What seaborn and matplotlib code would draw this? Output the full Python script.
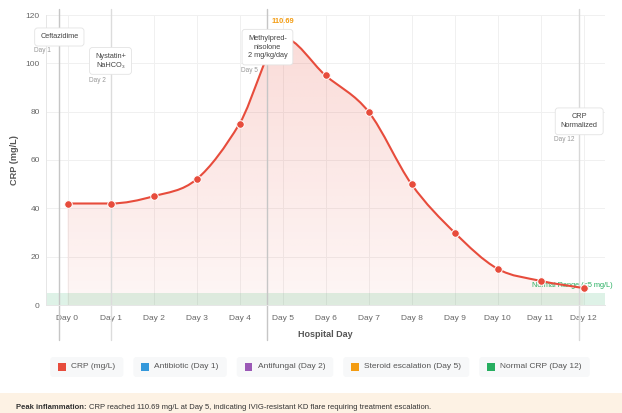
import numpy as np
import pandas as pd
import matplotlib
matplotlib.use("Agg")
import matplotlib.pyplot as plt
import seaborn as sns
from matplotlib.path import Path
from matplotlib.patches import PathPatch, FancyBboxPatch, Rectangle

# ---------------- data ----------------
days = list(range(13))
day_labels = [f"Day {d}" for d in days]
crp = [42, 42, 45, 52, 75, 110.69, 95, 80, 50, 30, 15, 10, 7]
normal_limit = 5
y_ticks = [0, 20, 40, 60, 80, 100, 120]

event_x = [-0.19, 1.0, 4.65, 11.9]
event_text = ["Ceftazidime", "Nystatin+\nNaHCO\u2083", "Methylpred-\nnisolone\n2 mg/kg/day", "CRP\nNormalized"]
event_day = ["Day 1", "Day 2", "Day 5", "Day 12"]

legend_labels = ["CRP (mg/L)", "Antibiotic (Day 1)", "Antifungal (Day 2)",
                 "Steroid escalation (Day 5)", "Normal CRP (Day 12)"]
legend_colors = ["#e74c3c", "#3498db", "#9b59b6", "#f39c12", "#27ae60"]

footer_bold = "Peak inflammation:"
footer_text = "CRP reached 110.69 mg/L at Day 5, indicating IVIG-resistant KD flare requiring treatment escalation."

# ---------------- style ----------------
sns.set_theme(style="white")
plt.rcParams["font.family"] = ["Liberation Sans", "DejaVu Sans"]

W, H = 622, 413
fig = plt.figure(figsize=(W / 100, H / 100), dpi=100)
fig.patch.set_facecolor("white")

# overlay axes in pixel coordinates for legend / footer
lax = fig.add_axes([0, 0, 1, 1], zorder=0)
lax.set_xlim(0, W)
lax.set_ylim(H, 0)
lax.axis("off")

ax = fig.add_axes([46 / W, 1 - 305 / H, 559 / W, 290 / H], zorder=1)
ax.set_xlim(-0.5, 12.5)
ax.set_ylim(0, 120)

RED = "#e74c3c"


def monotone_path(xs, ys):
    xs = np.asarray(xs, float)
    ys = np.asarray(ys, float)
    n = len(xs)
    delta = np.diff(ys) / np.diff(xs)
    m = np.zeros(n)
    m[0] = delta[0]
    m[-1] = delta[-1]
    for i in range(1, n - 1):
        if delta[i - 1] == 0 or delta[i] == 0 or np.sign(delta[i - 1]) != np.sign(delta[i]):
            m[i] = 0
        else:
            m[i] = (delta[i - 1] + delta[i]) / 2
    for i in range(n - 1):
        if delta[i] == 0:
            m[i] = m[i + 1] = 0
            continue
        a = m[i] / delta[i]
        b = m[i + 1] / delta[i]
        s = a * a + b * b
        if s > 9:
            t = 3 / np.sqrt(s)
            m[i] = t * a * delta[i]
            m[i + 1] = t * b * delta[i]
    verts = [(xs[0], ys[0])]
    codes = [Path.MOVETO]
    for i in range(n - 1):
        dx = (xs[i + 1] - xs[i]) / 3
        verts += [(xs[i] + dx, ys[i] + m[i] * dx),
                  (xs[i + 1] - dx, ys[i + 1] - m[i + 1] * dx),
                  (xs[i + 1], ys[i + 1])]
        codes += [Path.CURVE4] * 3
    return verts, codes


verts, codes = monotone_path(days, crp)

# gradient fill under curve
fverts = verts + [(days[-1], 0), (days[0], 0), verts[0]]
fcodes = codes + [Path.LINETO, Path.LINETO, Path.CLOSEPOLY]
fill_patch = PathPatch(Path(fverts, fcodes), facecolor="none", edgecolor="none")
ax.add_patch(fill_patch)
grad = np.zeros((256, 2, 4))
grad[..., 0] = 231 / 255
grad[..., 1] = 76 / 255
grad[..., 2] = 60 / 255
alphas = np.linspace(0.21, 0.05, 256)
grad[..., 3] = alphas[:, None]
img = ax.imshow(grad, extent=[-0.5, 12.5, 0, 120], origin="upper", aspect="auto",
                zorder=1, interpolation="bilinear")
img.set_clip_path(fill_patch)
ax.set_xlim(-0.5, 12.5)
ax.set_ylim(0, 120)

# normal range band
ax.axhspan(0, normal_limit, color="#27ae60", alpha=0.15, lw=0, zorder=1.5)
ax.text(10.81, 7.9, "Normal Range (<5 mg/L)", color="#27ae60", fontsize=5.3,
        ha="left", va="center", zorder=2, clip_on=False)

# smooth line
ax.add_patch(PathPatch(Path(verts, codes), facecolor="none", edgecolor=RED, lw=1.5,
                       zorder=3, capstyle="round", joinstyle="round"))

# markers
df = pd.DataFrame({"day": days, "crp": crp})
sns.scatterplot(data=df, x="day", y="crp", ax=ax, color=RED, s=30, edgecolor="white",
                linewidth=0.7, zorder=4, legend=False)

# event lines
line_colors = ["#c6c6c6", "#dcdcdc", "#c6c6c6", "#d8d8d8"]
for xv, c in zip(event_x, line_colors):
    ax.axvline(xv, ymin=-0.1207, ymax=1.0207, color=c, lw=1.0, zorder=2.5, clip_on=False)

# event annotation boxes
box_y = [110.9, 101, 106.7, 76]
day_pos = [(-0.79, 105.5), (0.49, 93.1), (4.03, 97.2), (11.32, 68.3)]
for xv, yv, txt, dtxt, dp in zip(event_x, box_y, event_text, event_day, day_pos):
    ax.text(xv, yv, txt, ha="center", va="center", fontsize=5.3, color="#444",
            linespacing=1.35, zorder=6, clip_on=False,
            bbox=dict(boxstyle="round,pad=0.75,rounding_size=0.4", fc="white",
                      ec="#e3e3e3", lw=0.6))
    ax.text(dp[0], dp[1], dtxt, ha="left", va="center", fontsize=4.7, color="#999",
            zorder=6, clip_on=False)

# peak label
pk = int(np.argmax(crp))
ax.text(days[pk], crp[pk] + 6.8, f"{crp[pk]:.2f}", ha="center", va="center",
        fontsize=5.4, fontweight="bold", color="#f39c12", zorder=6, clip_on=False)

# axes styling
ax.set_xticks(days)
ax.set_xticklabels(day_labels)
ax.set_yticks(y_ticks)
ax.tick_params(axis="both", length=0, labelsize=6, labelcolor="#666")
ax.tick_params(axis="x", pad=7)
ax.tick_params(axis="y", pad=4.5)
ax.grid(True, color="#f0f0f0", lw=0.7, zorder=0)
ax.set_axisbelow(True)
for s in ["top", "right"]:
    ax.spines[s].set_visible(False)
for s in ["left", "bottom"]:
    ax.spines[s].set_color("#e6e6e6")
    ax.spines[s].set_linewidth(0.7)
ax.set_xlabel("Hospital Day", fontsize=6.5, fontweight="bold", color="#555", labelpad=6)
ax.set_ylabel("CRP (mg/L)", fontsize=6.6, fontweight="bold", color="#555", labelpad=5)

# ---------------- legend ----------------
fig.canvas.draw()
r = fig.canvas.get_renderer()
fs_leg = 6
texts = []
widths = []
for lab in legend_labels:
    t = lax.text(0, 367, lab, fontsize=fs_leg, color="#555", ha="left", va="center")
    bb = t.get_window_extent(renderer=r)
    widths.append(bb.width)
    texts.append(t)
pad_l, sq, gap_sq, pad_r, gap = 8, 7.5, 5.5, 8, 10
box_w = [pad_l + sq + gap_sq + w + pad_r for w in widths]
total = sum(box_w) + gap * (len(box_w) - 1)
x0 = 320 - total / 2
for t, bw, col in zip(texts, box_w, legend_colors):
    lax.add_patch(FancyBboxPatch((x0, 357), bw, 20, boxstyle="round,pad=0,rounding_size=3",
                                 fc="#f7f8f9", ec="none", zorder=1))
    lax.add_patch(Rectangle((x0 + pad_l, 363.2), sq, sq, fc=col, ec="none", zorder=2))
    t.set_x(x0 + pad_l + sq + gap_sq)
    t.set_zorder(3)
    x0 += bw + gap

# ---------------- footer ----------------
lax.add_patch(Rectangle((0, 393.3), W, H - 393.3, fc="#fdf2e4", ec="none", zorder=1))
tb = lax.text(16, 407.5, footer_bold, fontsize=5.5, fontweight="bold", color="#333",
              ha="left", va="center", zorder=3)
bbw = tb.get_window_extent(renderer=r).width
lax.text(16 + bbw + 2.5, 407.5, footer_text, fontsize=5.5, color="#333",
         ha="left", va="center", zorder=3)

fig.savefig("out.png", dpi=100)
